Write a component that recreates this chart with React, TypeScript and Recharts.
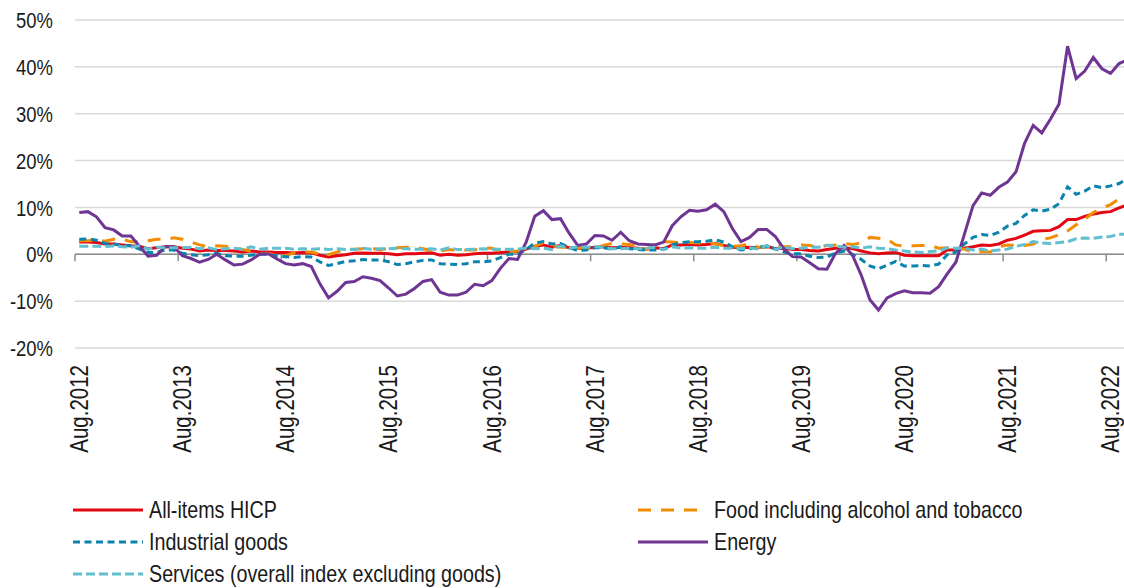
import React from 'react'
import { LineChart, Line, XAxis, YAxis, CartesianGrid, ReferenceLine, Legend } from 'recharts'

const FONT = '"Liberation Sans", Arial, sans-serif'
// the original uses a narrow face; squeeze the regular one horizontally
const NARROW = 0.82

// monthly, Aug 2012 .. Oct 2022 (annual rate of change, %)
const X_TICKS = [0, 12, 24, 36, 48, 60, 72, 84, 96, 108, 120]
const X_TICK_LABELS = [
  'Aug.2012', 'Aug.2013', 'Aug.2014', 'Aug.2015', 'Aug.2016', 'Aug.2017',
  'Aug.2018', 'Aug.2019', 'Aug.2020', 'Aug.2021', 'Aug.2022',
]
const Y_TICKS = [-20, -10, 0, 10, 20, 30, 40, 50]

const hicp = [
  2.6, 2.6, 2.5, 2.2, 2.2,
  2.0, 1.8, 1.7, 1.2, 1.4, 1.6, 1.6, 1.3, 1.1, 0.7, 0.9, 0.8,
  0.8, 0.7, 0.5, 0.7, 0.5, 0.5, 0.4, 0.4, 0.3, 0.4, 0.3, -0.2,
  -0.6, -0.3, -0.1, 0.2, 0.3, 0.2, 0.2, 0.1, -0.1, 0.1, 0.1, 0.2,
  0.3, -0.2, 0.0, -0.2, -0.1, 0.1, 0.2, 0.2, 0.4, 0.5, 0.6, 1.1,
  1.7, 2.0, 1.5, 1.9, 1.4, 1.3, 1.3, 1.5, 1.6, 1.4, 1.5, 1.4,
  1.3, 1.1, 1.4, 1.2, 2.0, 2.0, 2.1, 2.0, 2.1, 2.3, 1.9, 1.5,
  1.4, 1.5, 1.4, 1.7, 1.2, 1.3, 1.0, 1.0, 0.8, 0.7, 1.0, 1.3,
  1.4, 1.2, 0.7, 0.3, 0.1, 0.3, 0.4, -0.2, -0.3, -0.3, -0.3, -0.3,
  0.9, 0.9, 1.3, 1.6, 2.0, 1.9, 2.2, 3.0, 3.4, 4.1, 4.9, 5.0,
  5.1, 5.9, 7.4, 7.4, 8.1, 8.6, 8.9, 9.1, 9.9, 10.6,
]

const food = [
  2.9, 2.9, 3.0, 2.8, 3.2,
  3.2, 2.7, 2.7, 2.9, 3.2, 3.2, 3.5, 3.2, 2.6, 2.0, 1.6, 1.8,
  1.7, 1.5, 1.0, 0.7, 0.1, 0.2, -0.3, -0.3, 0.3, 0.5, 0.5, 0.0,
  -0.1, 0.5, 1.0, 1.1, 1.2, 1.3, 0.9, 1.3, 1.4, 1.5, 1.5, 1.2,
  0.8, 0.7, 1.0, 0.8, 0.9, 0.9, 1.4, 1.3, 0.7, 0.5, 0.7, 1.2,
  1.7, 2.5, 1.8, 1.5, 1.5, 1.3, 1.4, 1.4, 1.9, 2.3, 2.2, 2.1,
  1.9, 1.0, 2.1, 2.7, 2.6, 2.5, 2.5, 2.4, 2.6, 2.2, 1.9, 1.7,
  1.8, 2.3, 1.5, 1.5, 1.6, 1.6, 1.6, 2.0, 1.9, 1.4, 1.9, 2.0,
  2.3, 2.1, 2.4, 3.6, 3.4, 3.2, 2.0, 1.7, 1.8, 1.9, 1.9, 1.3,
  1.4, 1.3, 1.1, 0.4, 0.6, 0.5, 1.6, 2.0, 1.9, 1.9, 2.2, 3.2,
  3.5, 4.2, 5.0, 6.3, 7.5, 8.9, 9.8, 10.6, 11.8, 13.1,
]

const industrial = [
  3.2, 3.3, 3.0, 2.3, 2.2,
  1.8, 1.8, 1.1, 0.4, 0.4, 0.9, 0.9, 0.2, -0.1, -0.3, -0.1, 0.2,
  -0.3, -0.4, -0.4, -0.2, 0.0, 0.0, -0.4, -0.5, -0.7, -0.5, -0.6, -1.6,
  -2.4, -2.0, -1.5, -1.4, -1.1, -1.2, -1.2, -1.6, -2.2, -2.0, -1.6, -1.3,
  -1.2, -2.0, -2.1, -2.2, -2.0, -1.6, -1.6, -1.4, -0.7, 0.0, 0.0, 1.0,
  2.4, 2.7, 2.2, 2.3, 1.5, 0.8, 0.9, 1.4, 1.4, 1.1, 1.6, 1.2,
  1.0, 0.9, 0.9, 1.1, 2.0, 2.5, 2.7, 2.7, 2.8, 3.1, 2.6, 1.6,
  0.9, 1.2, 1.6, 1.6, 1.2, 0.5, 0.1, 0.1, -0.4, -0.7, -0.6, 0.3,
  0.7, 0.0, -1.1, -2.5, -3.1, -2.3, -1.5, -2.5, -2.5, -2.4, -2.5, -2.1,
  -0.1, 0.5, 2.2, 3.6, 4.2, 4.0, 4.7, 6.0, 6.6, 8.3, 9.5, 9.2,
  9.6, 10.8, 14.4, 12.8, 13.5, 14.6, 14.2, 14.6, 15.1, 16.2,
]

const energy = [
  8.9, 9.1, 8.0, 5.7, 5.2,
  3.9, 3.9, 1.7, -0.4, -0.2, 1.6, 1.6, -0.3, -0.9, -1.7, -1.1, 0.0,
  -1.2, -2.3, -2.1, -1.2, 0.0, 0.1, -1.0, -2.0, -2.3, -2.0, -2.6, -6.3,
  -9.3, -7.9, -6.0, -5.8, -4.8, -5.1, -5.6, -7.2, -8.9, -8.5, -7.3, -5.8,
  -5.4, -8.1, -8.7, -8.7, -8.1, -6.4, -6.7, -5.6, -3.0, -0.9, -1.1, 2.6,
  8.1, 9.3, 7.4, 7.6, 4.5, 1.9, 2.2, 4.0, 3.9, 3.0, 4.7, 2.9,
  2.2, 2.1, 2.0, 2.6, 6.1, 8.0, 9.4, 9.2, 9.5, 10.7, 9.1, 5.5,
  2.7, 3.6, 5.3, 5.3, 3.8, 1.1, -0.5, -0.6, -1.8, -3.1, -3.2, 0.2,
  1.9, -0.3, -4.5, -9.7, -11.9, -9.3, -8.4, -7.8, -8.2, -8.2, -8.3, -6.9,
  -4.2, -1.7, 4.3, 10.4, 13.1, 12.6, 14.3, 15.4, 17.6, 23.7, 27.5, 25.9,
  28.8, 32.0, 44.4, 37.5, 39.1, 42.0, 39.6, 38.6, 40.7, 41.5,
]

const services = [
  1.7, 1.7, 1.7, 1.6, 1.8,
  1.6, 1.5, 1.8, 1.1, 1.5, 1.4, 1.4, 1.4, 1.5, 1.2, 1.4, 1.0,
  1.2, 1.3, 1.1, 1.6, 1.1, 1.3, 1.3, 1.3, 1.1, 1.2, 1.1, 1.2,
  1.0, 1.2, 1.0, 1.0, 1.3, 1.1, 1.2, 1.2, 1.3, 1.2, 1.1, 1.1,
  1.2, 0.9, 1.4, 1.0, 1.0, 1.1, 1.2, 1.1, 1.1, 1.1, 1.1, 1.3,
  1.2, 1.3, 1.0, 1.8, 1.3, 1.6, 1.5, 1.6, 1.5, 1.2, 1.2, 1.3,
  1.2, 1.3, 1.5, 1.0, 1.6, 1.3, 1.4, 1.3, 1.3, 1.5, 1.3, 1.3,
  1.2, 1.4, 1.1, 1.9, 1.0, 1.6, 1.2, 1.3, 1.5, 1.5, 1.9, 1.8,
  1.5, 1.6, 1.3, 1.6, 1.3, 1.2, 0.9, 0.7, 0.5, 0.4, 0.6, 0.7,
  1.4, 1.3, 1.3, 0.9, 1.1, 0.7, 0.9, 1.1, 1.7, 2.1, 2.7, 2.4,
  2.3, 2.5, 2.7, 3.3, 3.5, 3.4, 3.7, 3.8, 4.3, 4.3,
]

const SERIES = [
  { key: 'hicp', name: 'All-items HICP', color: '#e30613', dash: undefined, sample: 70 },
  { key: 'food', name: 'Food including alcohol and tobacco', color: '#f28c00', dash: '13 10', sample: 59 },
  { key: 'industrial', name: 'Industrial goods', color: '#0a84ad', dash: '7 4.5', sample: 70 },
  { key: 'energy', name: 'Energy', color: '#6e3592', dash: undefined, sample: 70 },
  { key: 'services', name: 'Services (overall index excluding goods)', color: '#62bfcf', dash: '9 4', sample: 70 },
]

const data = hicp.map((v, i) => ({
  i, hicp: v, food: food[i], industrial: industrial[i], energy: energy[i], services: services[i],
}))

// year boundaries sit between Jul and Aug
const yearBounds = X_TICKS.map(t => t - 0.5)

function XTick({ x, y, payload }: any) {
  const label = X_TICK_LABELS[X_TICKS.indexOf(payload.value)]
  return (
    <g transform={`translate(${x}, ${y + 15}) rotate(-90) scale(${NARROW}, 1)`}>
      <text x={0} y={0} dy="0.35em" textAnchor="end" fill="#1a1a1a" style={{ fontFamily: FONT, fontSize: 25 }}>
        {label}
      </text>
    </g>
  )
}

function YTick({ x, y, payload }: any) {
  return (
    <g transform={`translate(${x}, ${y}) scale(${NARROW}, 1)`}>
      <text x={0} y={0} dy="0.36em" textAnchor="end" fill="#1a1a1a" style={{ fontFamily: FONT, fontSize: 22.5 }}>
        {`${payload.value}%`}
      </text>
    </g>
  )
}

// legend keeps the series order (row by row, two columns)
function LegendContent() {
  return (
    <div style={{ display: 'grid', gridTemplateColumns: '565px 480px', fontFamily: FONT }}>
      {SERIES.map(s => (
        <div key={s.key} style={{ display: 'flex', alignItems: 'center', height: 32 }}>
          <svg width={72} height={8} style={{ flex: 'none' }}>
            <line x1={0} x2={s.sample} y1={4} y2={4} stroke={s.color} strokeWidth={3} strokeDasharray={s.dash} />
          </svg>
          <span style={{
            marginLeft: 4, fontSize: 24, color: '#1a1a1a', whiteSpace: 'nowrap',
            display: 'inline-block', transform: `scaleX(${NARROW})`, transformOrigin: 'left center',
          }}>{s.name}</span>
        </div>
      ))}
    </div>
  )
}

export default function App() {
  return (
    <div style={{ position: 'fixed', left: 0, top: 0, width: 1124, height: 588, overflow: 'hidden', background: '#fff' }}>
      <LineChart width={1132} height={588} data={data} margin={{ top: 20, right: 0, bottom: 0, left: 0 }}>
        <CartesianGrid horizontal vertical={false} stroke="#d9d9d9" strokeWidth={1.5} />
        <XAxis
          type="number" dataKey="i" domain={[-0.5, 122.5]} ticks={X_TICKS} interval={0}
          height={240} axisLine={false} tickLine={false} tickSize={0} tick={<XTick />}
        />
        <YAxis
          type="number" domain={[-20, 50]} ticks={Y_TICKS} interval={0} width={75}
          axisLine={false} tickLine={false} tickSize={0} tickMargin={22}
          tick={<YTick />}
        />
        <ReferenceLine y={0} stroke="#8c8c8c" strokeWidth={1.5} />
        {yearBounds.map(b => (
          <ReferenceLine key={b} segment={[{ x: b, y: 0 }, { x: b, y: -1.5 }]} stroke="#8c8c8c" strokeWidth={1.5} />
        ))}
        {SERIES.map(s => (
          <Line
            key={s.key} dataKey={s.key} name={s.name} type="linear"
            stroke={s.color} strokeWidth={3} strokeDasharray={s.dash}
            dot={false} activeDot={false} isAnimationActive={false}
          />
        ))}
        <Legend
          content={<LegendContent />}
          wrapperStyle={{ left: 73, top: 494, height: 0, width: 1050 }}
        />
      </LineChart>
    </div>
  )
}
